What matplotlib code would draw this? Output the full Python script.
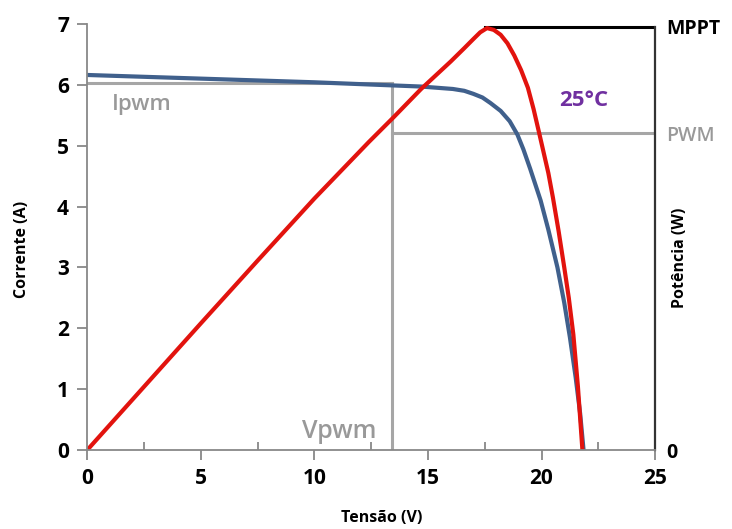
import matplotlib
matplotlib.use('Agg')
import matplotlib.pyplot as plt
from matplotlib.ticker import MultipleLocator

# curva I-V (corrente em A)
v_iv = [0, 5, 10, 12, 14.7, 16.1, 16.6, 17.0, 17.4, 17.75, 18.2, 18.6, 18.94, 19.2, 19.5, 19.96,
        20.3, 20.7, 21.0, 21.25, 21.5, 21.7, 21.85]
i_iv = [6.16, 6.10, 6.04, 6.01, 5.97, 5.93, 5.90, 5.85, 5.79, 5.70, 5.57, 5.40, 5.18, 4.94, 4.62, 4.10,
        3.62, 3.00, 2.42, 1.85, 1.20, 0.60, 0.0]

# curva P-V (escala relativa no eixo esquerdo)
v_pv = [0, 5, 7.5, 10, 12.4, 13.5, 14.7, 16.0, 16.6, 17.0, 17.3, 17.6, 17.9, 18.2, 18.5, 18.8,
        19.1, 19.4, 19.65, 19.9, 20.3, 20.5, 20.75, 21.0, 21.2, 21.4, 21.6, 21.8]
p_pv = [0, 2.08, 3.11, 4.13, 5.06, 5.47, 5.93, 6.38, 6.60, 6.75, 6.86, 6.93, 6.90, 6.82, 6.68, 6.48,
        6.24, 5.95, 5.60, 5.20, 4.55, 4.15, 3.60, 3.00, 2.50, 1.90, 1.05, 0.0]

v_pwm = 13.4
i_pwm = 6.02
p_pwm = 5.2
v_mppt = 17.5
p_mppt = 6.95

xticks = [0, 5, 10, 15, 20, 25]
yticks = [0, 1, 2, 3, 4, 5, 6, 7]

plt.rcParams['font.family'] = ['Open Sans', 'DejaVu Sans']

fig = plt.figure(figsize=(7.32, 5.29), dpi=100)
ax = fig.add_axes([0.119, 0.149, 0.776, 0.806])

grey = '#a6a6a6'
ax.plot([0, v_pwm], [i_pwm, i_pwm], c=grey, lw=2.2)
ax.plot([v_pwm, v_pwm], [0, i_pwm], c=grey, lw=2.2)
ax.plot([v_pwm, 25], [p_pwm, p_pwm], c=grey, lw=2.2)
ax.plot([v_mppt, 25], [p_mppt, p_mppt], c='black', lw=2.2)

ax.plot(v_iv, i_iv, c='#40608c', lw=3, solid_capstyle='round', solid_joinstyle='round')
ax.plot(v_pv, p_pv, c='#e2130e', lw=3, solid_capstyle='round', solid_joinstyle='round')

ax.set_xlim(0, 25)
ax.set_ylim(0, 7)
ax.set_xticks(xticks)
ax.set_yticks(yticks)
ax.xaxis.set_minor_locator(MultipleLocator(2.5))
ax.tick_params(axis='x', which='minor', direction='in', length=6, color='#888888', width=1.3)
ax.tick_params(axis='both', which='major', length=7, color='#888888', width=1.3,
               labelsize=15, pad=6)
for lab in ax.get_xticklabels() + ax.get_yticklabels():
    lab.set_fontweight('bold')

ax.spines['top'].set_visible(False)
ax.spines['left'].set_color('#888888')
ax.spines['bottom'].set_color('#888888')
ax.spines['left'].set_linewidth(1.3)
ax.spines['bottom'].set_linewidth(1.3)
ax.spines['right'].set_color('#333333')
ax.spines['right'].set_linewidth(1.6)
ax.spines['right'].set_bounds(0, p_mppt)

ax.text(0.518, -0.16, 'Tensão (V)', transform=ax.transAxes, fontsize=11.5,
        fontweight='bold', ha='center', va='center')
ax.text(-0.114, 0.47, 'Corrente (A)', transform=ax.transAxes, fontsize=11.5,
        fontweight='bold', ha='center', va='center', rotation=90)
ax.text(1.044, 0.45, 'Potência (W)', transform=ax.transAxes, fontsize=11.5,
        fontweight='bold', ha='center', va='center', rotation=90)

ax2 = ax.twinx()
ax2.set_ylim(0, 7)
ax2.set_yticks([0, p_pwm, p_mppt])
ax2.set_yticklabels(['0', 'PWM', 'MPPT'])
ax2.tick_params(axis='y', length=0, labelsize=14, pad=8)
cols = ['black', '#999999', 'black']
wts = ['bold', 'semibold', 'bold']
for lab, c, w in zip(ax2.get_yticklabels(), cols, wts):
    lab.set_color(c)
    lab.set_fontweight(w)
for s in ax2.spines.values():
    s.set_visible(False)

ax.text(1.1, 5.67, 'Ipwm', color='#999999', fontsize=16, fontweight='semibold', va='center', ha='left')
ax.text(12.75, 0.3, 'Vpwm', color='#999999', fontsize=18, fontweight='semibold', va='center', ha='right')
ax.text(21.85, 5.74, '25°C', color='#7030a0', fontsize=16, fontweight='bold', va='center', ha='center')

fig.savefig('out.png', dpi=100)
